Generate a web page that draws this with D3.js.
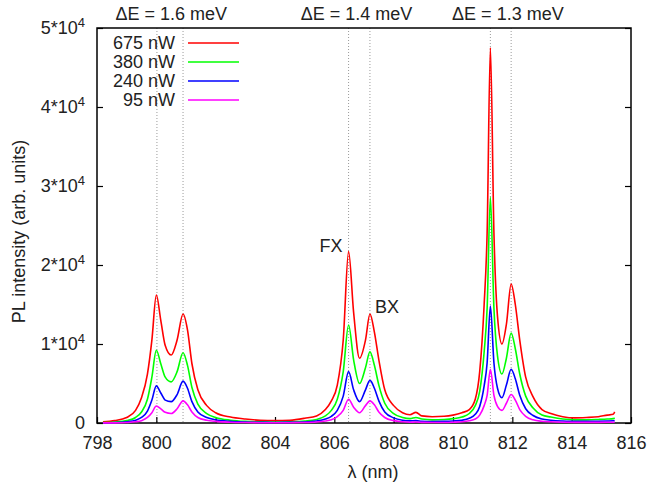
<!DOCTYPE html>
<html>
<head>
<meta charset="utf-8" />
<title>PL spectra</title>
<style>
    body { margin: 0; background: #fff; }
    text { font-family: "Liberation Sans", Arial, sans-serif; fill: #222; }
</style>
</head>
<body>
<div id="container"></div>
<script src="https://cdn.jsdelivr.net/npm/d3@7"></script>
<script>
    // wavelength grid (nm), shared by all spectra
    const wavelength = [798.2, 798.6, 799.0, 799.3, 799.5, 799.7, 799.85, 800.0, 800.15, 800.3,
        800.5, 800.7, 800.9, 801.05, 801.2, 801.4, 801.7, 802.0, 802.5, 803.0,
        803.5, 804.0, 804.5, 805.0, 805.4, 805.7, 805.9, 806.1, 806.3, 806.48,
        806.65, 806.85, 807.05, 807.2, 807.35, 807.5, 807.7, 808.0, 808.3, 808.55,
        808.75, 808.95, 809.3, 809.7, 810.0, 810.3, 810.55, 810.75, 810.9, 811.05,
        811.15, 811.26, 811.38, 811.5, 811.65, 811.8, 811.96, 812.1, 812.25, 812.45,
        812.7, 813.0, 813.3, 813.7, 814.1, 814.5, 814.9, 815.2, 815.4, 815.45]

    const pl675 = [150, 300, 700, 1600, 3200, 6200, 10500, 16200, 13000, 9800,
        8600, 10500, 13800, 11800, 7500, 4200, 2200, 1300, 750, 500,
        350, 300, 350, 600, 900, 1700, 2800, 4800, 10500, 21700,
        14000, 8200, 10500, 13800, 11500, 8000, 4200, 2200, 1300, 1050,
        1350, 900, 800, 850, 1000, 1300, 1700, 3000, 6500, 15000,
        24000, 47500, 24000, 13500, 10000, 12500, 17600, 15000, 10500, 5800,
        3300, 1700, 1200, 800, 650, 700, 800, 1000, 1100, 1400]
    const pl380 = [50, 120, 300, 700, 1400, 3000, 5800, 9200, 7500, 5800,
        5200, 6500, 8900, 7300, 4500, 2400, 1200, 700, 350, 200,
        150, 120, 150, 250, 450, 900, 1600, 3000, 6500, 12400,
        8000, 5000, 7000, 9000, 7300, 4800, 2500, 1200, 700, 550,
        700, 500, 400, 450, 550, 750, 1200, 2200, 4000, 9000,
        14500, 28600, 14500, 8500, 6200, 8200, 11400, 9400, 6200, 3400,
        1900, 1000, 750, 500, 400, 400, 450, 500, 550, 650]
    const pl240 = [20, 50, 150, 350, 700, 1500, 2900, 4700, 3800, 2900,
        2700, 3600, 5300, 4400, 2700, 1400, 700, 400, 200, 120,
        80, 70, 80, 120, 250, 500, 850, 1600, 3400, 6500,
        4200, 2700, 4200, 5400, 4400, 2800, 1400, 650, 350, 270,
        300, 220, 180, 200, 250, 350, 600, 1100, 2100, 4700,
        7600, 14800, 7600, 4400, 3200, 4800, 6800, 5600, 3500, 1800,
        950, 500, 350, 250, 200, 200, 220, 250, 280, 300]
    const pl95 = [10, 20, 60, 150, 300, 700, 1300, 2150, 1800, 1350,
        1200, 1800, 2800, 2300, 1400, 700, 350, 200, 100, 60,
        40, 30, 40, 60, 120, 250, 400, 800, 1600, 3000,
        2000, 1300, 2200, 2800, 2300, 1400, 700, 300, 150, 100,
        120, 80, 60, 70, 100, 150, 280, 500, 1000, 2200,
        3500, 6800, 3500, 2100, 1600, 2500, 3600, 2900, 1700, 850,
        400, 220, 150, 100, 80, 80, 80, 90, 100, 100]

    const seriesNames = ['675 nW', '380 nW', '240 nW', '95 nW']
    const seriesColors = ['#ff0000', '#00ff00', '#0000ff', '#ff00ff']
    const seriesValues = [pl675, pl380, pl240, pl95]

    const xTicks = [798, 800, 802, 804, 806, 808, 810, 812, 814, 816]
    const yTicks = [0, 10000, 20000, 30000, 40000, 50000]

    // dotted lines at the doublet peaks, and the splitting labels above
    const peakLines = [800.02, 800.9, 806.48, 807.2, 811.26, 811.96]
    const splitText = ['ΔE = 1.6 meV', 'ΔE = 1.4 meV', 'ΔE = 1.3 meV']
    const splitAt = [800.5, 806.75, 811.85]

    const margin = { top: 28, right: 19, bottom: 62, left: 97 }
    const W = 650, H = 485
    const width = W - margin.left - margin.right
    const height = H - margin.top - margin.bottom

    const svg = d3.select('#container').append('svg').attr('width', W).attr('height', H)
    const chart = svg.append('g').attr('transform', `translate(${margin.left},${margin.top})`)

    const xScale = d3.scaleLinear().domain([798, 816]).range([0, width])
    const yScale = d3.scaleLinear().domain([0, 50000]).range([height, 0])

    // dotted guides
    chart.selectAll('.guide').data(peakLines).enter().append('line')
        .attr('class', 'guide')
        .attr('x1', d => xScale(d)).attr('x2', d => xScale(d))
        .attr('y1', 0).attr('y2', height)
        .attr('stroke', '#9a9a9a').attr('stroke-width', 1).attr('stroke-dasharray', '1,2')

    // axes, ticks pointing inward like gnuplot
    const xAxis = d3.axisBottom(xScale).tickValues(xTicks).tickSizeInner(-6).tickSizeOuter(0).tickPadding(13)
    const gx = chart.append('g').attr('transform', `translate(0,${height})`).call(xAxis)
    gx.selectAll('text').style('font-size', '18px').attr('fill', '#222')

    const yAxis = d3.axisLeft(yScale).tickValues(yTicks).tickSizeInner(-6).tickSizeOuter(0).tickPadding(12).tickFormat('')
    const gy = chart.append('g').call(yAxis)
    gy.selectAll('.tick text').each(function (d) {
        const t = d3.select(this).style('font-size', '18px').attr('fill', '#222')
        if (d === 0) { t.text('0'); return }
        t.append('tspan').text(`${d / 10000}*10`)
        t.append('tspan').text('4').attr('dy', '-7').style('font-size', '13px')
    })

    chart.append('g').attr('transform', `translate(${width},0)`)
        .call(d3.axisRight(yScale).tickValues(yTicks).tickSizeInner(-6).tickSizeOuter(0).tickFormat(''))
    chart.selectAll('.domain').remove()
    chart.selectAll('.tick line').attr('stroke', '#000').attr('stroke-width', 1.2)

    chart.append('rect').attr('width', width).attr('height', height)
        .attr('fill', 'none').attr('stroke', '#000').attr('stroke-width', 1.5)

    // spectra
    const line = d3.line()
        .x((d, i) => xScale(wavelength[i]))
        .y(d => yScale(d))
        .curve(d3.curveMonotoneX)

    chart.selectAll('.spec').data(seriesValues).enter().append('path')
        .attr('class', 'spec')
        .attr('d', d => line(d))
        .attr('fill', 'none')
        .attr('stroke', (d, i) => seriesColors[i])
        .attr('stroke-width', 1.6)
        .attr('stroke-linejoin', 'round')

    // legend
    const legend = chart.append('g')
    seriesNames.forEach(function (name, i) {
        const y = 15 + i * 19
        legend.append('text').attr('x', 78).attr('y', y).attr('dy', '0.35em')
            .attr('text-anchor', 'end').style('font-size', '18px').text(name)
        legend.append('line').attr('x1', 91).attr('x2', 142).attr('y1', y).attr('y2', y)
            .attr('stroke', seriesColors[i]).attr('stroke-width', 1.6)
    })

    // FX / BX labels at the 675 nW peaks
    const iFX = wavelength.indexOf(806.48), iBX = wavelength.indexOf(807.2)
    chart.append('text').attr('x', xScale(806.48) - 6).attr('y', yScale(pl675[iFX]))
        .attr('text-anchor', 'end').style('font-size', '18px').text('FX')
    chart.append('text').attr('x', xScale(807.2) + 5).attr('y', yScale(pl675[iBX]) - 1)
        .style('font-size', '18px').text('BX')

    // splitting labels above the frame
    chart.selectAll('.split').data(splitText).enter().append('text')
        .attr('class', 'split')
        .attr('x', (d, i) => xScale(splitAt[i])).attr('y', -8)
        .attr('text-anchor', 'middle').style('font-size', '18px').text(d => d)

    // axis titles
    chart.append('text').attr('x', xScale(807.3)).attr('y', height + 55)
        .attr('text-anchor', 'middle').style('font-size', '18px').text('λ (nm)')
    chart.append('text').attr('transform', `translate(${-72},${height / 2 + 6}) rotate(-90)`)
        .attr('text-anchor', 'middle').style('font-size', '18px').text('PL intensity (arb. units)')
</script>
</body>
</html>
